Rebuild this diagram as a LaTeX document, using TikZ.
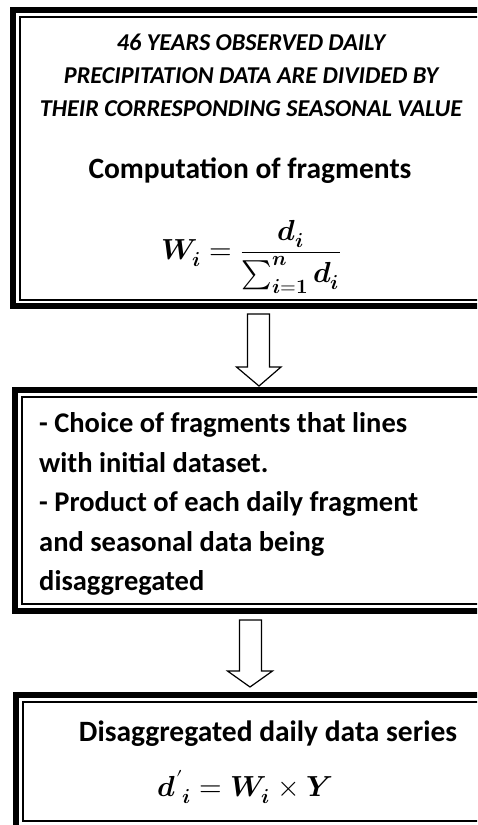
\documentclass[tikz,border=0pt]{standalone}
\usepackage{fontspec}
\usepackage{unicode-math}
\setmainfont{Carlito}
\setmathfont{Latin Modern Math}
\begin{document}
\begin{tikzpicture}[x=1pt,y=-1pt,
  outerframe/.style={draw, line width=6pt, inner sep=0pt, line join=miter},
  innerframe/.style={draw, line width=1.5pt, inner sep=0pt, line join=miter},
  blockarrow/.style={draw, line width=1.2pt, fill=white, line join=miter},
  capsline/.style={font=\fontsize{24.2}{33}\selectfont\bfseries\itshape, align=center, inner sep=0pt},
  titletext/.style={font=\fontsize{29.5}{34}\selectfont\bfseries, inner sep=0pt},
  listtext/.style={font=\fontsize{28.5}{39.5}\selectfont\bfseries, align=left, inner sep=0pt},
  mathtext/.style={font=\fontsize{29}{35}\selectfont, inner sep=0pt}]
\useasboundingbox (0,0) rectangle (477,825);
\clip (0,0) rectangle (477,825);
% box 1
\node[outerframe, minimum width=487pt, minimum height=296pt] (b1o) at (256.5,158) {};
\node[innerframe, minimum width=474pt, minimum height=283pt] (b1i) at (257,158.5) {};
% box 2
\node[outerframe, minimum width=485pt, minimum height=220.5pt] (b2o) at (257.5,500.25) {};
\node[innerframe, minimum width=472pt, minimum height=207pt] (b2i) at (258,500.5) {};
% box 3
\node[outerframe, minimum width=484pt, minimum height=140pt] (b3o) at (258,765) {};
\node[innerframe, minimum width=471pt, minimum height=119pt] (b3i) at (258.5,761.5) {};
% texts
\node[capsline] (t1) at (251,75) {46 YEARS OBSERVED DAILY\\PRECIPITATION DATA ARE DIVIDED BY\\THEIR CORRESPONDING SEASONAL VALUE};
\node[titletext] (t2) at (250,171) {Computation of fragments};
\node[mathtext] (f1) at (251,257) {$\displaystyle \symbfit{W}_{\symbfit{i}} = \frac{\symbfit{d}_{\symbfit{i}}}{\sum_{\symbfit{i}=\symbf{1}}^{\symbfit{n}}\symbfit{d}_{\symbfit{i}}}$};
\node[listtext, anchor=west] (t3) at (39,504) {- Choice of fragments that lines\\with initial dataset.\\- Product of each daily fragment\\and seasonal data being\\disaggregated};
\node[titletext] (t4) at (268,734) {Disaggregated daily data series};
\node[mathtext] (f2) at (245,787) {${\symbfit{d}'}_{\symbfit{i}} = \symbfit{W}_{\symbfit{i}}\times\symbfit{Y}$};
% arrows
\coordinate (a1s) at (258.5,314);
\coordinate (a1t) at (259,386);
\coordinate (a2s) at (250.5,620);
\coordinate (a2t) at (250,687);
\draw[blockarrow] (a1s) ++(-11,0) -- ++(22,0) -- ++(0,53) -- ++(11.5,0) -- (a1t) -- ++(-22.5,-19) -- ++(11,0) -- cycle;
\draw[blockarrow] (a2s) ++(-11,0) -- ++(22,0) -- ++(0,51) -- ++(11,0) -- (a2t) -- ++(-22.5,-16) -- ++(12,0) -- cycle;
\end{tikzpicture}
\end{document}
